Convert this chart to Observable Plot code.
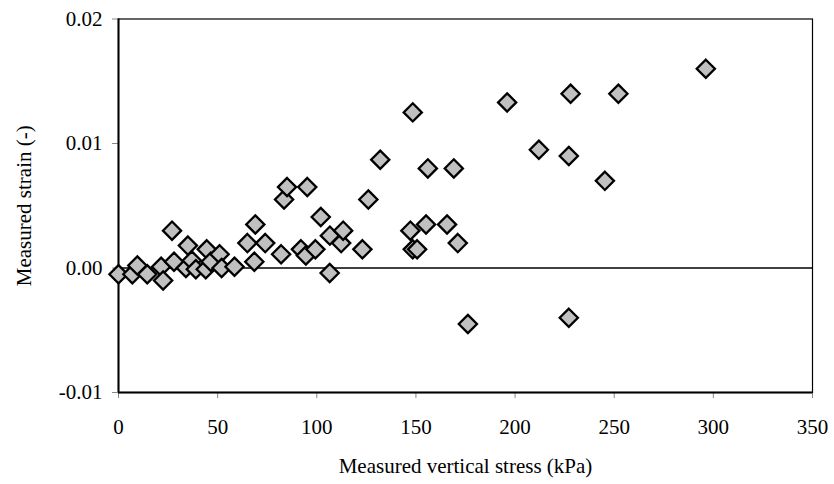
<!DOCTYPE html>
<html>
<head>
<meta charset="utf-8">
<script src="https://cdn.jsdelivr.net/npm/d3@7"></script>
<script src="https://cdn.jsdelivr.net/npm/@observablehq/plot@0.6"></script>
<style>
  html, body { margin: 0; padding: 0; background: #fff; }
  svg { display: block; }
</style>
</head>
<body>
<div id="chart"></div>
<script>
const stress = [0, 7, 9.5, 14.5, 21.5, 22.5, 27, 28, 35, 34, 37, 39, 44.5, 44, 46.5, 51, 52, 58.5, 65, 68.5, 69, 74, 82, 83.5, 85, 92, 94.5, 95.2, 99.3, 102, 106.5, 106.6, 112.3, 113.3, 123, 126, 132, 147.2, 148.4, 148.4, 150.6, 155.1, 156, 165.7, 169.1, 171.1, 176.2, 196, 212, 227.1, 227.1, 228, 245.3, 252.1, 296.2];
const strain = [-0.0005, -0.0005, 0.0002, -0.0005, 0.0001, -0.001, 0.003, 0.0005, 0.0018, 0.0, 0.0006, -0.0001, 0.0015, -0.0001, 0.0005, 0.0011, 0.0, 0.0001, 0.002, 0.0005, 0.0035, 0.002, 0.0011, 0.0055, 0.0065, 0.0015, 0.001, 0.0065, 0.0015, 0.0041, -0.0004, 0.0026, 0.002, 0.003, 0.0015, 0.0055, 0.0087, 0.003, 0.0125, 0.0015, 0.0015, 0.0035, 0.008, 0.0035, 0.008, 0.002, -0.0045, 0.0133, 0.0095, 0.009, -0.004, 0.014, 0.007, 0.014, 0.016];
const xTicks = [0, 50, 100, 150, 200, 250, 300, 350];
const yTicks = [-0.01, 0, 0.01, 0.02];
const yTickLabels = ["-0.01", "0.00", "0.01", "0.02"];

const data = stress.map((x, i) => ({x, y: strain[i]}));
const font = "'Liberation Serif', 'Times New Roman', serif";

const chart = Plot.plot({
  width: 834,
  height: 484,
  marginLeft: 118,
  marginRight: 22,
  marginTop: 18.5,
  marginBottom: 92,
  style: {fontFamily: font, fontSize: "21px", color: "#000", background: "#fff"},
  x: {domain: [0, 350]},
  y: {domain: [-0.01, 0.02]},
  marks: [
    Plot.axisX({ticks: xTicks, tickSize: 6, tickPadding: 21, fontSize: 21, stroke: "#888", fill: "#000", label: null}),
    Plot.axisY({ticks: yTicks, tickSize: 6, tickPadding: 10, fontSize: 21, stroke: "#888", fill: "#000", label: null,
      tickFormat: d => yTickLabels[yTicks.findIndex(t => Math.abs(t - d) < 1e-9)]}),
    Plot.frame({stroke: "#000", strokeWidth: 1.2}),
    Plot.ruleX([0], {stroke: "#000", strokeWidth: 2}),
    Plot.ruleY([-0.01], {stroke: "#000", strokeWidth: 2}),
    Plot.ruleY([0], {stroke: "#000", strokeWidth: 1.5}),
    Plot.dot(data, {x: "x", y: "y", symbol: "diamond2", r: 8.2, fill: "#c0c0c0", stroke: "#000", strokeWidth: 2.3, fillOpacity: 1}),
    Plot.text(["Measured vertical stress (kPa)"], {frameAnchor: "bottom", dy: 80, fontSize: 21, fill: "#000", textAnchor: "middle"}),
    Plot.text(["Measured strain (-)"], {frameAnchor: "left", dx: -94, rotate: -90, fontSize: 21, fill: "#000", textAnchor: "middle"})
  ]
});
document.getElementById("chart").appendChild(chart);
</script>
</body>
</html>
